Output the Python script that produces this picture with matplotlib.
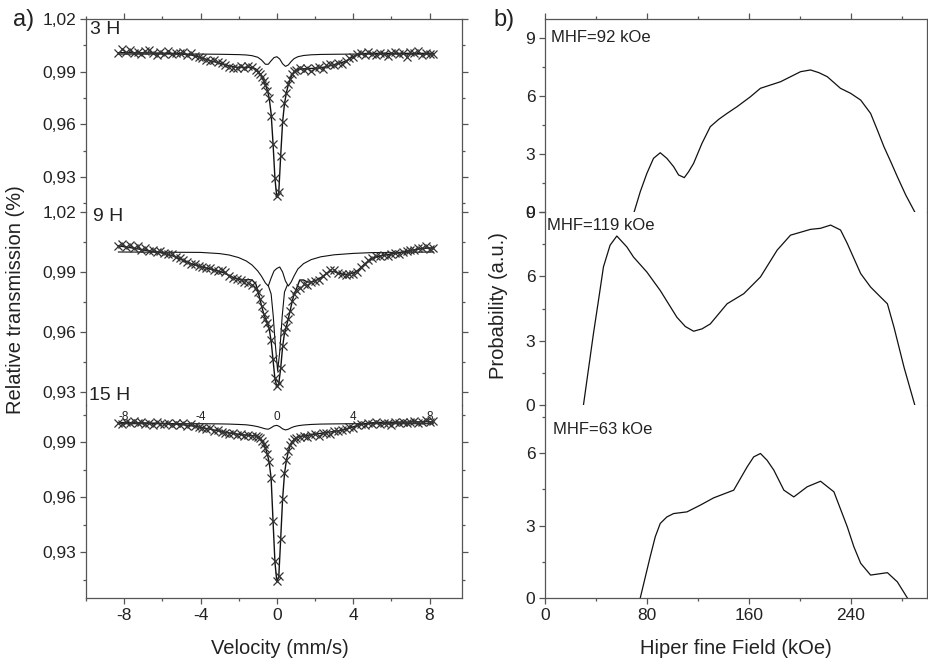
import numpy as np
import matplotlib
matplotlib.use("Agg")
import matplotlib.pyplot as plt
from matplotlib.ticker import FixedLocator, FuncFormatter

plt.rcParams['font.family'] = ['Liberation Sans', 'DejaVu Sans']
plt.rcParams['axes.unicode_minus'] = False

# ---- a) Mossbauer spectra (velocity in mm/s, relative transmission) ----
VEL = [-8.3, -8.1, -7.9, -7.7, -7.5, -7.3, -7.1, -6.9, -6.7, -6.5, -6.3, -6.1,
       -5.9, -5.7, -5.5, -5.3, -5.1, -4.9, -4.7, -4.5, -4.3, -4.1, -3.9, -3.7,
       -3.5, -3.3, -3.1, -2.9, -2.7, -2.5, -2.3, -2.1, -1.9, -1.7, -1.5, -1.3, -1.1,
       -1.0, -0.9, -0.8, -0.7, -0.6, -0.5, -0.4, -0.3, -0.2, -0.1, 0.0,
       0.1, 0.2, 0.3, 0.4, 0.5, 0.6, 0.7, 0.8, 0.9, 1.0,
       1.2, 1.4, 1.6, 1.8, 2.0, 2.2, 2.4, 2.6, 2.8, 3.0, 3.2, 3.4, 3.6, 3.8,
       4.0, 4.2, 4.4, 4.6, 4.8, 5.0, 5.2, 5.4, 5.6, 5.8, 6.0, 6.2, 6.4, 6.6,
       6.8, 7.0, 7.2, 7.4, 7.6, 7.8, 8.0, 8.2]

T_3H = [1.0005, 1.0030, 1.0012, 1.0022, 1.0008, 1.0010, 0.9998, 1.0016, 1.0025, 1.0006,
        0.9995, 1.0012, 1.0003, 1.0015, 0.9999, 1.0008, 1.0004, 1.0014, 0.9996, 1.0006,
        0.9990, 0.9982, 0.9976, 0.9968, 0.9961, 0.9966, 0.9955, 0.9948, 0.9940, 0.9928,
        0.9922, 0.9918, 0.9930, 0.9921, 0.9933, 0.9926, 0.9912,
        0.9900, 0.9885, 0.9868, 0.9845, 0.9822, 0.9792, 0.9750, 0.9650, 0.9485, 0.9295,
        0.9190, 0.9215, 0.9420, 0.9615, 0.9720, 0.9780, 0.9828, 0.9860, 0.9885, 0.9905, 0.9912,
        0.9920, 0.9910, 0.9922, 0.9905, 0.9918, 0.9926, 0.9915, 0.9938, 0.9945, 0.9935,
        0.9950, 0.9944, 0.9960, 0.9975, 0.9985, 0.9998, 1.0006, 0.9995, 1.0010, 1.0002,
        0.9996, 1.0008, 1.0000, 0.9990, 1.0004, 1.0012, 0.9998, 1.0008, 0.9985, 1.0010,
        1.0004, 1.0016, 0.9996, 1.0008, 1.0002, 0.9998]
FIT_3H = [1.0008, 1.0008, 1.0008, 1.0008, 1.0007, 1.0007, 1.0007, 1.0007, 1.0007, 1.0006,
          1.0006, 1.0006, 1.0005, 1.0005, 1.0004, 1.0003, 1.0002, 1.0000, 0.9998, 0.9995,
          0.9990, 0.9984, 0.9977, 0.9970, 0.9963, 0.9957, 0.9951, 0.9945, 0.9939, 0.9933,
          0.9928, 0.9925, 0.9924, 0.9924, 0.9925, 0.9922, 0.9915,
          0.9905, 0.9890, 0.9872, 0.9850, 0.9825, 0.9795, 0.9748, 0.9660, 0.9490, 0.9290,
          0.9182, 0.9212, 0.9420, 0.9612, 0.9718, 0.9780, 0.9825, 0.9858, 0.9882, 0.9898, 0.9908,
          0.9914, 0.9916, 0.9917, 0.9918, 0.9919, 0.9921, 0.9924, 0.9928, 0.9934, 0.9940,
          0.9946, 0.9952, 0.9960, 0.9972, 0.9986, 0.9996, 1.0001, 1.0003, 1.0004, 1.0004,
          1.0004, 1.0004, 1.0004, 1.0004, 1.0004, 1.0004, 1.0004, 1.0004, 1.0004, 1.0004,
          1.0004, 1.0004, 1.0004, 1.0004, 1.0004, 1.0004]

T_9H = [1.0030, 1.0038, 1.0025, 1.0033, 1.0020, 1.0028, 1.0012, 1.0018, 1.0005, 1.0010,
        0.9998, 1.0004, 0.9995, 0.9988, 0.9990, 0.9975, 0.9968, 0.9958, 0.9950, 0.9938,
        0.9942, 0.9930, 0.9925, 0.9918, 0.9922, 0.9912, 0.9905, 0.9908, 0.9898, 0.9880,
        0.9872, 0.9865, 0.9860, 0.9850, 0.9845, 0.9835, 0.9822,
        0.9800, 0.9765, 0.9728, 0.9690, 0.9665, 0.9645, 0.9618, 0.9560, 0.9465, 0.9370,
        0.9332, 0.9345, 0.9420, 0.9530, 0.9600, 0.9625, 0.9665, 0.9705, 0.9755, 0.9790, 0.9808,
        0.9822, 0.9840, 0.9836, 0.9848, 0.9855, 0.9862, 0.9878, 0.9895, 0.9912, 0.9908,
        0.9896, 0.9888, 0.9885, 0.9890, 0.9888, 0.9902, 0.9925, 0.9940, 0.9958, 0.9970,
        0.9980, 0.9978, 0.9985, 0.9982, 0.9988, 0.9995, 0.9992, 1.0002, 1.0005, 1.0010,
        1.0008, 1.0018, 1.0020, 1.0028, 1.0015, 1.0022]
FIT_9H = [1.0030, 1.0028, 1.0025, 1.0022, 1.0019, 1.0016, 1.0012, 1.0009, 1.0006, 1.0003,
          1.0000, 0.9997, 0.9993, 0.9988, 0.9982, 0.9975, 0.9967, 0.9958, 0.9950, 0.9942,
          0.9936, 0.9930, 0.9925, 0.9920, 0.9915, 0.9910, 0.9905, 0.9900, 0.9892, 0.9882,
          0.9873, 0.9866, 0.9862, 0.9860, 0.9862, 0.9860, 0.9840,
          0.9805, 0.9770, 0.9730, 0.9695, 0.9668, 0.9645, 0.9615, 0.9555, 0.9460, 0.9365,
          0.9328, 0.9342, 0.9418, 0.9525, 0.9595, 0.9628, 0.9668, 0.9708, 0.9752, 0.9788, 0.9810,
          0.9860, 0.9860, 0.9850, 0.9850, 0.9856, 0.9865, 0.9878, 0.9893, 0.9903, 0.9902,
          0.9895, 0.9890, 0.9888, 0.9890, 0.9895, 0.9905, 0.9922, 0.9940, 0.9955, 0.9967,
          0.9975, 0.9980, 0.9984, 0.9987, 0.9990, 0.9993, 0.9996, 1.0000, 1.0004, 1.0008,
          1.0011, 1.0014, 1.0017, 1.0019, 1.0020, 1.0021]

T_15H = [1.0005, 0.9998, 1.0012, 1.0003, 1.0015, 1.0006, 1.0010, 0.9998, 1.0004, 0.9994,
         1.0008, 1.0000, 0.9996, 1.0006, 0.9992, 1.0002, 0.9995, 1.0003, 0.9990, 0.9998,
         0.9988, 0.9982, 0.9978, 0.9970, 0.9975, 0.9962, 0.9966, 0.9955, 0.9950, 0.9944,
         0.9948, 0.9938, 0.9942, 0.9935, 0.9938, 0.9932, 0.9935,
         0.9930, 0.9920, 0.9905, 0.9890, 0.9870, 0.9836, 0.9790, 0.9705, 0.9470, 0.9250,
         0.9145, 0.9170, 0.9370, 0.9590, 0.9730, 0.9800, 0.9850, 0.9885, 0.9902, 0.9915, 0.9922,
         0.9928, 0.9935, 0.9930, 0.9938, 0.9942, 0.9935, 0.9948, 0.9952, 0.9946, 0.9960,
         0.9958, 0.9966, 0.9972, 0.9980, 0.9978, 0.9992, 1.0000, 0.9994, 1.0004, 0.9998,
         1.0008, 0.9996, 1.0006, 1.0002, 0.9995, 1.0008, 1.0004, 1.0012, 1.0006, 1.0010,
         1.0016, 1.0004, 1.0010, 1.0018, 1.0008, 1.0014]
FIT_15H = [1.0006, 1.0006, 1.0006, 1.0006, 1.0005, 1.0005, 1.0005, 1.0004, 1.0004, 1.0003,
           1.0003, 1.0002, 1.0001, 1.0000, 0.9999, 0.9998, 0.9996, 0.9994, 0.9992, 0.9989,
           0.9986, 0.9982, 0.9978, 0.9974, 0.9970, 0.9966, 0.9962, 0.9958, 0.9954, 0.9950,
           0.9947, 0.9944, 0.9941, 0.9939, 0.9937, 0.9935, 0.9933,
           0.9928, 0.9920, 0.9906, 0.9889, 0.9868, 0.9835, 0.9788, 0.9702, 0.9468, 0.9245,
           0.9138, 0.9165, 0.9372, 0.9588, 0.9728, 0.9800, 0.9848, 0.9882, 0.9902, 0.9914, 0.9922,
           0.9930, 0.9934, 0.9937, 0.9940, 0.9943, 0.9946, 0.9949, 0.9952, 0.9955, 0.9958,
           0.9961, 0.9965, 0.9970, 0.9976, 0.9983, 0.9990, 0.9996, 1.0000, 1.0003, 1.0005,
           1.0006, 1.0007, 1.0007, 1.0008, 1.0008, 1.0008, 1.0009, 1.0009, 1.0009, 1.0010,
           1.0010, 1.0010, 1.0010, 1.0011, 1.0011, 1.0011]

# sub-spectra (thin lines)
COMP_VEL = [-8.3, -4.0, -3.0, -2.5, -2.0, -1.6, -1.3, -1.0, -0.8, -0.6, -0.45, -0.3, -0.15, 0.0,
            0.15, 0.3, 0.45, 0.6, 0.75, 0.9, 1.1, 1.4, 1.8, 2.3, 3.0, 4.0, 5.0, 8.2]
COMP_3H = [1.0000, 1.0000, 0.9999, 0.9998, 0.9997, 0.9995, 0.9991, 0.9982, 0.9966, 0.9942,
           0.9942, 0.9962, 0.9980, 0.9985, 0.9972, 0.9945, 0.9930, 0.9938, 0.9958, 0.9974,
           0.9985, 0.9992, 0.9996, 0.9998, 0.9999, 1.0000, 1.0000, 1.0000]
COMP_9H = [1.0000, 0.9998, 0.9992, 0.9985, 0.9972, 0.9955, 0.9935, 0.9905, 0.9878, 0.9845,
           0.9830, 0.9870, 0.9905, 0.9918, 0.9925, 0.9900, 0.9855, 0.9830, 0.9850, 0.9880,
           0.9915, 0.9942, 0.9962, 0.9976, 0.9986, 0.9993, 0.9997, 1.0000]
COMP_15H = [1.0000, 1.0000, 0.9999, 0.9998, 0.9996, 0.9994, 0.9990, 0.9984, 0.9978, 0.9972,
            0.9970, 0.9978, 0.9988, 0.9991, 0.9984, 0.9972, 0.9966, 0.9970, 0.9978, 0.9984,
            0.9989, 0.9993, 0.9996, 0.9998, 0.9999, 1.0000, 1.0000, 1.0000]
SING_VEL_9H = [-0.45, -0.3, -0.19, -0.1, 0.04, 0.15, 0.28, 0.4, 0.55]
SING_9H = [0.9832, 0.9790, 0.9680, 0.9560, 0.9405, 0.9500, 0.9680, 0.9800, 0.9835]

# ---- b) hyperfine field distributions ----
HF_92 = [70.0, 74.8, 80.0, 85.2, 90.5, 95.7, 101.0, 104.9, 109.4, 112.8, 116.7, 123.3, 129.8,
         136.4, 143.0, 150.9, 161.3, 169.2, 185.0, 200.7, 208.5, 215.1, 221.7, 232.0, 240.0,
         247.9, 255.7, 261.0, 266.2, 271.5, 276.7, 283.3, 290.4]
P_92 = [0.0, 1.05, 2.0, 2.78, 3.07, 2.78, 2.35, 1.92, 1.78, 2.09, 2.52, 3.56, 4.42,
        4.80, 5.11, 5.46, 5.97, 6.41, 6.75, 7.27, 7.36, 7.22, 7.01, 6.41, 6.15,
        5.80, 5.11, 4.25, 3.38, 2.61, 1.83, 0.88, 0.0]
HF_119 = [30.2, 38.0, 42.0, 45.9, 51.1, 56.4, 64.3, 69.5, 80.0, 90.5, 103.6, 110.2, 116.7,
          123.3, 129.8, 143.0, 156.1, 169.2, 182.3, 192.8, 208.5, 216.4, 224.3, 232.1, 237.4,
          247.9, 255.7, 263.6, 268.9, 274.1, 282.0, 290.4]
P_119 = [0.0, 3.31, 4.88, 6.44, 7.45, 7.88, 7.37, 6.90, 6.20, 5.34, 4.09, 3.66, 3.44,
         3.55, 3.78, 4.72, 5.19, 5.97, 7.22, 7.92, 8.19, 8.24, 8.39, 8.16, 7.53,
         6.13, 5.50, 5.03, 4.72, 3.62, 1.75, 0.0]
HF_63 = [74.8, 82.6, 86.6, 90.5, 95.7, 101.0, 111.5, 122.0, 132.4, 148.2, 158.7, 163.9, 169.2,
         174.4, 179.7, 187.6, 195.4, 205.9, 216.4, 226.9, 237.4, 242.6, 247.9, 255.7, 268.9,
         276.7, 284.6]
P_63 = [0.0, 1.71, 2.54, 3.09, 3.36, 3.50, 3.57, 3.85, 4.15, 4.47, 5.43, 5.85, 5.99,
        5.71, 5.30, 4.47, 4.19, 4.61, 4.84, 4.40, 2.95, 2.12, 1.44, 0.95, 1.05,
        0.67, 0.0]

W, H = 929, 664
fig = plt.figure(figsize=(W / 100, H / 100), dpi=100)
INK = '#222222'
SPINE = '#555555'


def box(x0, y0, x1, y1):
    return [x0 / W, 1 - y1 / H, (x1 - x0) / W, (y1 - y0) / H]


def style(ax, pos, major, minor):
    for s in ax.spines.values():
        s.set_color(SPINE)
        s.set_linewidth(0.9)
    ax.spines['top'].set_visible(pos == 0)
    ax.spines['bottom'].set_visible(pos == 2)
    ax.tick_params(which='both', direction='out', color=SPINE, labelcolor=INK,
                   labelsize=12.5, top=(pos == 0), bottom=(pos == 2), right=True,
                   labelbottom=(pos == 2), width=0.9, pad=3)
    ax.tick_params(which='major', length=4)
    ax.tick_params(which='minor', length=2.5)
    ax.yaxis.set_major_locator(FixedLocator(major))
    ax.yaxis.set_minor_locator(FixedLocator(minor))
    ax.patch.set_alpha(0)


rows = [(19, 212), (212, 405), (405, 598)]
comma = FuncFormatter(lambda v, p: f'{v:.2f}'.replace('.', ','))

# left panel
left_sets = [(T_3H, FIT_3H, COMP_3H, (0.91, 1.02), [0.93, 0.96, 0.99, 1.02],
              [0.915, 0.945, 0.975, 1.005]),
             (T_9H, FIT_9H, COMP_9H, (0.9235, 1.02), [0.93, 0.96, 0.99, 1.02],
              [0.945, 0.975, 1.005]),
             (T_15H, FIT_15H, COMP_15H, (0.905, 1.0102), [0.93, 0.96, 0.99],
              [0.915, 0.945, 0.975, 1.005])]
left_axes = []
for i, (data, fit, comp, ylim, major, minor) in enumerate(left_sets):
    ax = fig.add_axes(box(86, rows[i][0], 462, rows[i][1]))
    ax.plot(COMP_VEL, comp, color='#111111', lw=0.8)
    if i == 1:
        ax.plot(SING_VEL_9H, SING_9H, color='#111111', lw=0.8)
    ax.plot(VEL, fit, color='#111111', lw=1.0)
    ax.plot(VEL, data, ls='none', marker='x', ms=5.5, mew=0.9, color='#333333')
    ax.set_xlim(-10, 9.7)
    ax.set_ylim(*ylim)
    style(ax, i, major, minor)
    ax.yaxis.set_major_formatter(comma)
    ax.xaxis.set_major_locator(FixedLocator([-8, -4, 0, 4, 8]))
    ax.xaxis.set_minor_locator(FixedLocator([-10, -6, -2, 2, 6]))
    left_axes.append(ax)

sec = left_axes[2].secondary_xaxis('top')
sec.set_xticks([-8, -4, 0, 4, 8])
sec.tick_params(length=0, pad=-13, labelsize=8.5, labelcolor=INK)
sec.spines['top'].set_visible(False)

# right panel
right_sets = [(HF_92, P_92, (0, 10), [0, 3, 6, 9], [1.5, 4.5, 7.5]),
              (HF_119, P_119, (0, 9), [0, 3, 6, 9], [1.5, 4.5, 7.5]),
              (HF_63, P_63, (0, 8), [0, 3, 6], [1.5, 4.5, 7.5])]
for i, (hf, p, ylim, major, minor) in enumerate(right_sets):
    ax = fig.add_axes(box(545, rows[i][0], 927, rows[i][1]))
    ax.plot(hf, p, color='#111111', lw=0.9)
    ax.set_xlim(0, 300)
    ax.set_ylim(*ylim)
    style(ax, i, major, minor)
    ax.xaxis.set_major_locator(FixedLocator([0, 80, 160, 240]))
    ax.xaxis.set_minor_locator(FixedLocator([40, 120, 200, 280]))


def ftext(px, py, s, **kw):
    fig.text(px / W, 1 - py / H, s, color=INK, **kw)


ftext(13, 20, 'a)', fontsize=17, va='center', ha='left')
ftext(493, 20, 'b)', fontsize=17, va='center', ha='left')
ftext(90, 30, '3 H', fontsize=14, va='center', ha='left')
ftext(93, 216, '9 H', fontsize=14, va='center', ha='left')
ftext(89, 396, '15 H', fontsize=14, va='center', ha='left')
ftext(551, 38, 'MHF=92 kOe', fontsize=12, va='center', ha='left')
ftext(547, 226, 'MHF=119 kOe', fontsize=12, va='center', ha='left')
ftext(553, 430, 'MHF=63 kOe', fontsize=12, va='center', ha='left')
ftext(16, 300, 'Relative transmission (%)', fontsize=14.5, rotation=90,
      va='center', ha='center')
ftext(280, 648, 'Velocity (mm/s)', fontsize=14.5, va='center', ha='center')
ftext(499, 306, 'Probability (a.u.)', fontsize=14.5, rotation=90,
      va='center', ha='center')
ftext(736, 648, 'Hiper fine Field (kOe)', fontsize=14.5, va='center', ha='center')

fig.savefig('out.png', dpi=100)
